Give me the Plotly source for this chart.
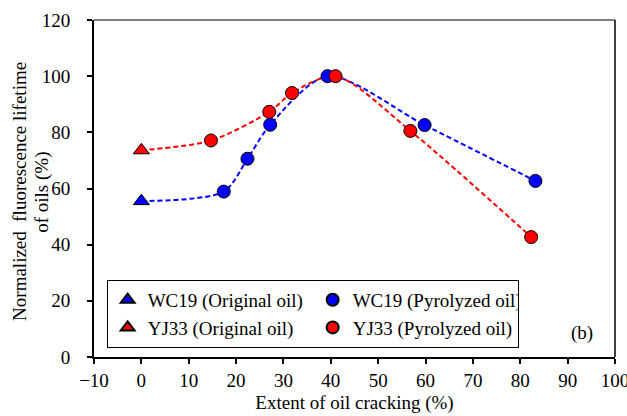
import plotly.graph_objects as go

# Data
wc19_orig_x = [0.0]
wc19_orig_y = [55.5]
yj33_orig_x = [0.0]
yj33_orig_y = [73.6]

wc19_pyro_x = [17.4, 22.4, 27.2, 39.3, 59.8, 83.2]
wc19_pyro_y = [58.9, 70.6, 82.7, 100.0, 82.6, 62.7]
yj33_pyro_x = [14.7, 27.0, 31.8, 41.0, 56.8, 82.3]
yj33_pyro_y = [77.1, 87.3, 94.0, 100.0, 80.5, 42.7]

y_title_lines = ["Normalized  fluorescence lifetime", "of oils (%)"]
x_title = "Extent of oil cracking (%)"

BLUE = "#0000FF"
RED = "#FF0000"
FONT = "Liberation Serif, Tinos, Times, DejaVu Serif, serif"

fig = go.Figure()

# smoothed dashed connecting lines (original oil point followed by pyrolyzed series)
fig.add_trace(go.Scatter(x=wc19_orig_x + wc19_pyro_x, y=wc19_orig_y + wc19_pyro_y,
                         mode="lines", line=dict(color=BLUE, width=2, dash="5px,3px", shape="spline", smoothing=0.8),
                         showlegend=False, hoverinfo="skip"))
fig.add_trace(go.Scatter(x=yj33_orig_x + yj33_pyro_x, y=yj33_orig_y + yj33_pyro_y,
                         mode="lines", line=dict(color=RED, width=2, dash="5px,3px", shape="spline", smoothing=0.8),
                         showlegend=False, hoverinfo="skip"))

mline = dict(color="black", width=1)
fig.add_trace(go.Scatter(x=wc19_orig_x, y=wc19_orig_y, mode="markers", name="WC19 (Original oil)",
                         marker=dict(symbol="triangle-up", size=14, color=BLUE, line=mline)))
fig.add_trace(go.Scatter(x=wc19_pyro_x, y=wc19_pyro_y, mode="markers", name="WC19 (Pyrolyzed oil)",
                         marker=dict(symbol="circle", size=13, color=BLUE, line=mline)))
fig.add_trace(go.Scatter(x=yj33_orig_x, y=yj33_orig_y, mode="markers", name="YJ33 (Original oil)",
                         marker=dict(symbol="triangle-up", size=14, color=RED, line=mline)))
fig.add_trace(go.Scatter(x=yj33_pyro_x, y=yj33_pyro_y, mode="markers", name="YJ33 (Pyrolyzed oil)",
                         marker=dict(symbol="circle", size=13, color=RED, line=mline)))

fig.update_layout(
    width=627, height=416,
    margin=dict(l=94, r=12, t=20, b=59, autoexpand=False),
    paper_bgcolor="white", plot_bgcolor="white",
    font=dict(family=FONT, size=19, color="black"),
    showlegend=True,
    legend=dict(orientation="h", x=0.0243, y=0.229, xanchor="left", yanchor="top",
                bordercolor="black", borderwidth=1, bgcolor="white",
                entrywidth=160, entrywidthmode="pixels",
                font=dict(family=FONT, size=19, color="black"),
                itemsizing="constant"),
    xaxis=dict(range=[-10, 100], dtick=10, tick0=-10, showgrid=False, zeroline=False,
               showline=True, linecolor="black", linewidth=2, automargin=False,
               ticklabeloverflow="allow",
               tickfont=dict(family=FONT, size=19),
               ticks="outside", ticklen=5, tickwidth=1.5, tickcolor="black",
               title=dict(text=x_title, standoff=6,
                          font=dict(family=FONT, size=19))),
    yaxis=dict(range=[0, 120], dtick=20, showgrid=False, zeroline=False,
               showline=True, linecolor="black", linewidth=2, automargin=False,
               tickfont=dict(family=FONT, size=19),
               ticklabelstandoff=13,
               ticks="outside", ticklen=5, tickwidth=1.5, tickcolor="black"),
    shapes=[
        dict(type="line", xref="paper", yref="paper", x0=0, x1=1, y0=1, y1=1,
             line=dict(color="#555555", width=1.5)),
        dict(type="line", xref="paper", yref="paper", x0=1, x1=1, y0=0, y1=1,
             line=dict(color="black", width=1.5)),
    ],
    annotations=[
        dict(text="(b)", xref="paper", yref="paper", x=0.936, y=0.072,
             xanchor="center", yanchor="middle",
             showarrow=False, font=dict(family=FONT, size=19, color="black")),
        dict(text=y_title_lines[0], xref="paper", yref="paper", x=-0.142, y=0.49,
             xanchor="center", yanchor="middle", textangle=-90,
             showarrow=False, font=dict(family=FONT, size=19, color="black")),
        dict(text=y_title_lines[1], xref="paper", yref="paper", x=-0.100, y=0.49,
             xanchor="center", yanchor="middle", textangle=-90,
             showarrow=False, font=dict(family=FONT, size=19, color="black")),
    ],
)

fig.write_html("out.html")
